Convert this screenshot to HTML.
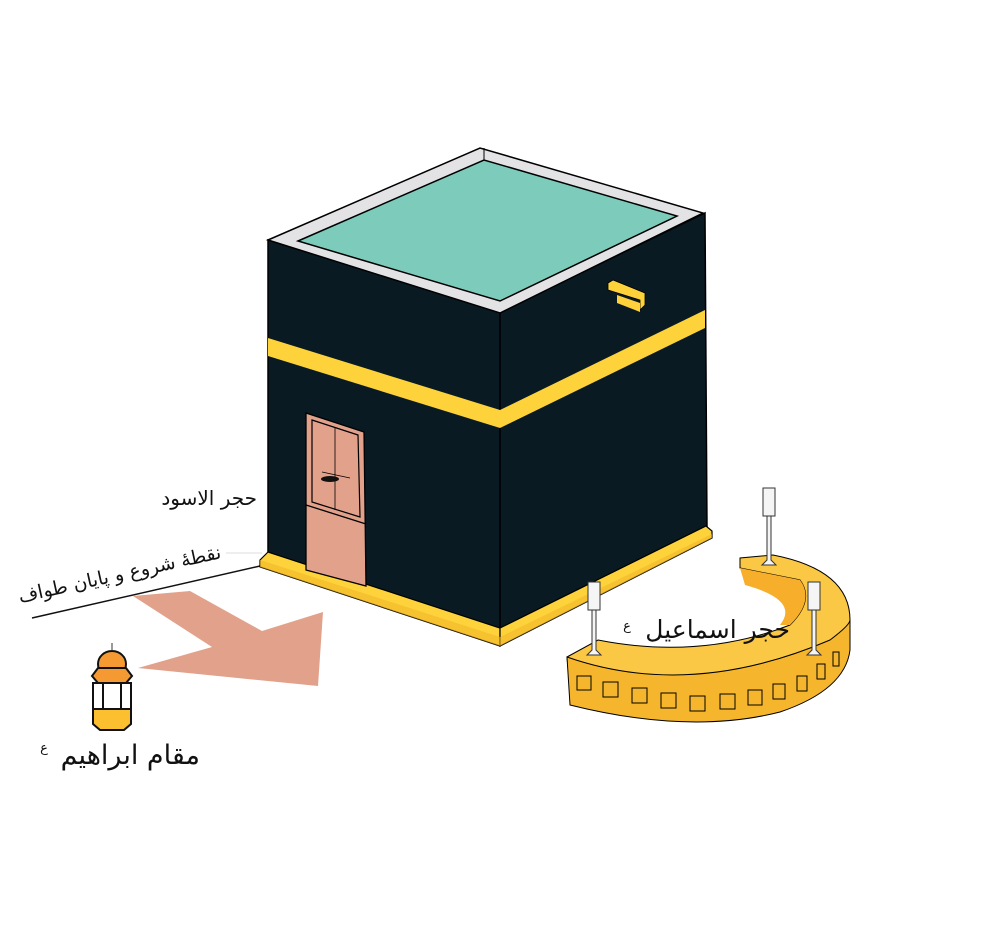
<!DOCTYPE html>
<html><head><meta charset="utf-8"><style>
html,body{margin:0;padding:0;background:#fff;width:1000px;height:928px;overflow:hidden}
svg{display:block}
text{font-family:"DejaVu Sans","Liberation Sans",sans-serif;fill:#111}
</style></head><body>
<svg width="1000" height="928" viewBox="0 0 1000 928" xmlns="http://www.w3.org/2000/svg">
<polygon points="133,596 190,591 262,631 323,612 318,686 138,668 212,647" fill="#e2a18b"/>
<line x1="32" y1="618" x2="260" y2="566" stroke="#111" stroke-width="1.5"/>
<line x1="226" y1="553" x2="262" y2="553" stroke="#ddd" stroke-width="1"/>
<circle cx="268" cy="523" r="4" fill="#fff"/>
<polygon points="268,240 500,312 500,632 268,553" fill="#0a1a23" stroke="#000" stroke-width="1.5"/>
<polygon points="500,312 705,213 707,528 500,632" fill="#0a1a23" stroke="#000" stroke-width="1.5"/>
<polygon points="268,338 500,410 500,428 268,356" fill="#fdd23b"/>
<polygon points="500,410 705,310 705,328 500,428" fill="#fdd23b"/>
<polygon points="268,240 480,148 703,213 500,313" fill="#e3e3e6" stroke="#000" stroke-width="1.5"/>
<polygon points="298,241 484,160 677,216 500,301" fill="#7ccbbb" stroke="#000" stroke-width="1.5"/>
<line x1="484" y1="160" x2="484" y2="148" stroke="#000"/>
<polygon points="608,283 613,280 645,293 645,305 640,310 640,300 608,290" fill="#fdd23b" stroke="#000" stroke-width="0.8"/>
<polygon points="617,295 640,303 640,312 617,303" fill="#fdd23b"/>
<polygon points="260,560 268,552 500,628 500,646 260,567" fill="#fdd23b" stroke="#000" stroke-width="1.2"/>
<polygon points="500,628 706,526 712,531 712,538 500,646" fill="#fdd23b" stroke="#000" stroke-width="1.2"/>
<polygon points="500,637 712,534 712,538 500,646 260,567 260,560" fill="#f2b728" opacity=".6"/>
<polygon points="306,413 364,432 366,586 306,570" fill="#e2a18b" stroke="#000" stroke-width="1.3"/>
<polygon points="312,420 358,435 360,517 312,502" fill="none" stroke="#000" stroke-width="1.2"/>
<line x1="306" y1="505" x2="366" y2="524" stroke="#000" stroke-width="1.3"/>
<line x1="335" y1="428" x2="335" y2="510" stroke="#000" stroke-width="0.8"/>
<ellipse cx="330" cy="479" rx="9" ry="3" fill="#111"/>
<line x1="322" y1="472" x2="350" y2="478" stroke="#000" stroke-width="0.8"/>
<path d="M567,657 L598,640 Q700,660 790,625 Q815,600 800,580 L740,568 L740,558 L773,555 Q850,570 850,620 Q845,665 780,690 Q690,720 570,690 Z" fill="#fbc845" stroke="#000" stroke-width="1"/>
<path d="M567,657 Q690,700 830,640 Q850,625 850,620 L850,650 Q845,690 780,712 Q690,735 570,705 Z" fill="#f5b62e" stroke="#000" stroke-width="1"/>
<path d="M740,568 L800,580 Q815,600 790,625 L780,625 Q800,600 745,585 Z" fill="#f7ae2a"/>
<g fill="none" stroke="#000" stroke-width="1">
<rect x="577" y="676" width="14" height="14"/><rect x="603" y="682" width="15" height="15"/><rect x="632" y="688" width="15" height="15"/><rect x="661" y="693" width="15" height="15"/><rect x="690" y="696" width="15" height="15"/><rect x="720" y="694" width="15" height="15"/><rect x="748" y="690" width="14" height="15"/><rect x="773" y="684" width="12" height="15"/><rect x="797" y="676" width="10" height="15"/><rect x="817" y="664" width="8" height="15"/><rect x="833" y="652" width="6" height="14"/>
</g>
<g fill="#f5f5f5" stroke="#333" stroke-width="1">
<rect x="763" y="488" width="12" height="28"/><path d="M767,516 L771,516 L771,560 L776,565 L762,565 L767,560Z"/>
<rect x="808" y="582" width="12" height="28"/><path d="M812,610 L816,610 L816,650 L821,655 L807,655 L812,650Z"/>
<rect x="588" y="582" width="12" height="28"/><path d="M592,610 L596,610 L596,650 L601,655 L587,655 L592,650Z"/>
</g>
<g stroke="#111" stroke-width="2">
<ellipse cx="112" cy="664" rx="14" ry="13" fill="#f59a33"/>
<polygon points="92,676 98,668 126,668 132,676 126,683 98,683" fill="#f59a33"/>
<rect x="93" y="683" width="38" height="26" fill="#fff"/>
<line x1="103" y1="683" x2="103" y2="709"/><line x1="121" y1="683" x2="121" y2="709"/>
<polygon points="93,709 131,709 131,724 124,730 100,730 93,724" fill="#fbbf30"/>
</g>
<line x1="112" y1="651" x2="112" y2="643" stroke="#333"/>
<text x="257" y="505" font-size="20" text-anchor="end">حجر الاسود</text>
<text x="222" y="558" font-size="19" text-anchor="end" transform="rotate(-12.5 222 558)">نقطهٔ شروع و پایان طواف</text>
<text x="200" y="764" font-size="27" text-anchor="end">مقام ابراهیم</text>
<text x="44" y="752" font-size="13" text-anchor="middle" fill="#666">ع</text>
<text x="790" y="638" font-size="25" text-anchor="end">حجر اسماعیل</text>
<text x="627" y="630" font-size="13" text-anchor="middle" fill="#666">ع</text>
</svg>
</body></html>
